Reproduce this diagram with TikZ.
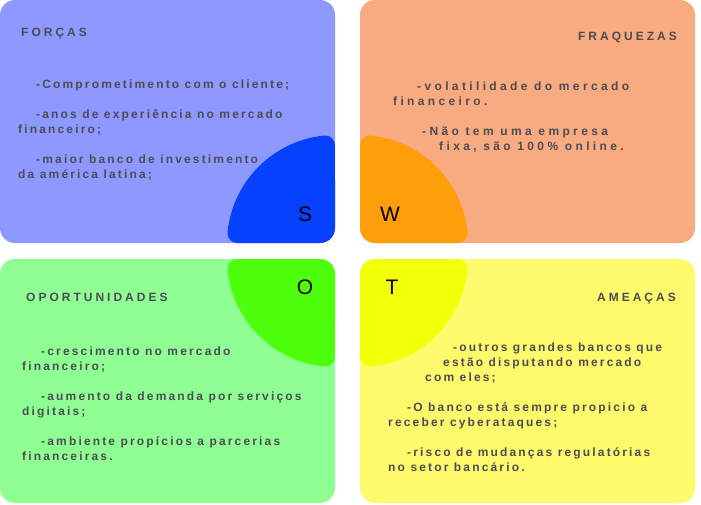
\documentclass[tikz,border=0pt]{standalone}
\usepackage{fontspec}
\setmainfont{Liberation Sans}
\newfontfamily\trackfont[LetterSpace=18]{Liberation Sans}
\newfontfamily\widefont[LetterSpace=28]{Liberation Sans}
\newfontfamily\titlefont[LetterSpace=25]{Liberation Sans}

\definecolor{forcasbg}{HTML}{8E99FF}
\definecolor{forcasblob}{HTML}{0541FF}
\definecolor{fraqbg}{HTML}{F8AA80}
\definecolor{fraqblob}{HTML}{FF9E0B}
\definecolor{oportbg}{HTML}{8FFF94}
\definecolor{oportblob}{HTML}{4DFF0A}
\definecolor{ameacbg}{HTML}{FFFA6B}
\definecolor{ameacblob}{HTML}{F4FF0A}
\definecolor{txtgray}{HTML}{4C4C54}

\tikzset{
  % quarto de círculo (raio 108) com cantos arredondados, canto em (0,0)
  quarto/.pic={
    \fill[pic actions] (-97.49,0) arc[start angle=90, end angle=185.86, radius=10]
      arc[start angle=185.86, end angle=264.14, radius=108]
      arc[start angle=264.14, end angle=360, radius=10]
      -- (0,-15) arc[start angle=0, end angle=90, radius=15] -- cycle;
  }
}

\begin{document}
\begin{tikzpicture}[x=1pt, y=-1pt,
  card/.style={rounded corners=15pt},
  title/.style={inner sep=0pt, text=txtgray, font=\titlefont\bfseries\fontsize{12}{14}\selectfont},
  body/.style={anchor=north west, inner sep=0pt, align=left, text=txtgray,
    font=\trackfont\bfseries\fontsize{12}{15}\selectfont},
  widebody/.style={body, font=\widefont\bfseries\fontsize{12}{15}\selectfont},
  letter/.style={inner sep=0pt, font=\fontsize{21}{21}\selectfont}]
  \useasboundingbox (0,0) rectangle (701,504);

  % cartões
  \fill[card, forcasbg] (0,0) rectangle (335,243);
  \fill[card, fraqbg]   (360,0) rectangle (695,243);
  \fill[card, oportbg]  (0,259) rectangle (335,503);
  \fill[card, ameacbg]  (360,259) rectangle (695,503);

  % cantos internos
  \pic[fill=forcasblob] at (335,243) {quarto};
  \pic[fill=fraqblob, xscale=-1] at (360,243) {quarto};
  \pic[fill=oportblob, yscale=-1] at (335,259) {quarto};
  \pic[fill=ameacblob, xscale=-1, yscale=-1] at (360,259) {quarto};

  \node[letter] (s) at (305,214) {S};
  \node[letter] (w) at (390,214) {W};
  \node[letter] (o) at (305,287) {O};
  \node[letter] (t) at (392,287) {T};

  % títulos
  \node[title, anchor=base west] (forcas) at (21,36) {FORÇAS};
  \node[title, anchor=base east] (fraquezas) at (677,40) {FRAQUEZAS};
  \node[title, anchor=base west] (oportunidades) at (26,301) {OPORTUNIDADES};
  \node[title, anchor=base east] (ameacas) at (676,301) {AMEAÇAS};

  % textos
  \node[body] (forcastxt) at (18,80) {%
    \hspace*{18pt}-Comprometimento com o cliente;\\[15pt]
    \hspace*{18pt}-anos de experiência no mercado\\
    financeiro;\\[15pt]
    \hspace*{18pt}-maior banco de investimento\\
    da américa latina;};
  \node[widebody] (fraqtxt) at (393,82) {%
    \hspace*{24pt}-volatilidade do mercado\\
    financeiro.\\[15pt]
    \hspace*{29pt}-Não tem uma empresa\\
    \hspace*{46pt}fixa, são 100\% online.};
  \node[body] (oporttxt) at (22,347) {%
    \hspace*{19pt}-crescimento no mercado\\
    financeiro;\\[15pt]
    \hspace*{19pt}-aumento da demanda por serviços\\
    digitais;\\[15pt]
    \hspace*{19pt}-ambiente propícios a parcerias\\
    financeiras.};
  \node[body] (ameactxt) at (388,343) {%
    \hspace*{65pt}-outros grandes bancos que\\
    \hspace*{55pt}estão disputando mercado\\
    \hspace*{37pt}com eles;\\[15pt]
    \hspace*{19pt}-O banco está sempre propicio a\\
    receber cyberataques;\\[15pt]
    \hspace*{19pt}-risco de mudanças regulatórias\\
    no setor bancário.};
\end{tikzpicture}
\end{document}
